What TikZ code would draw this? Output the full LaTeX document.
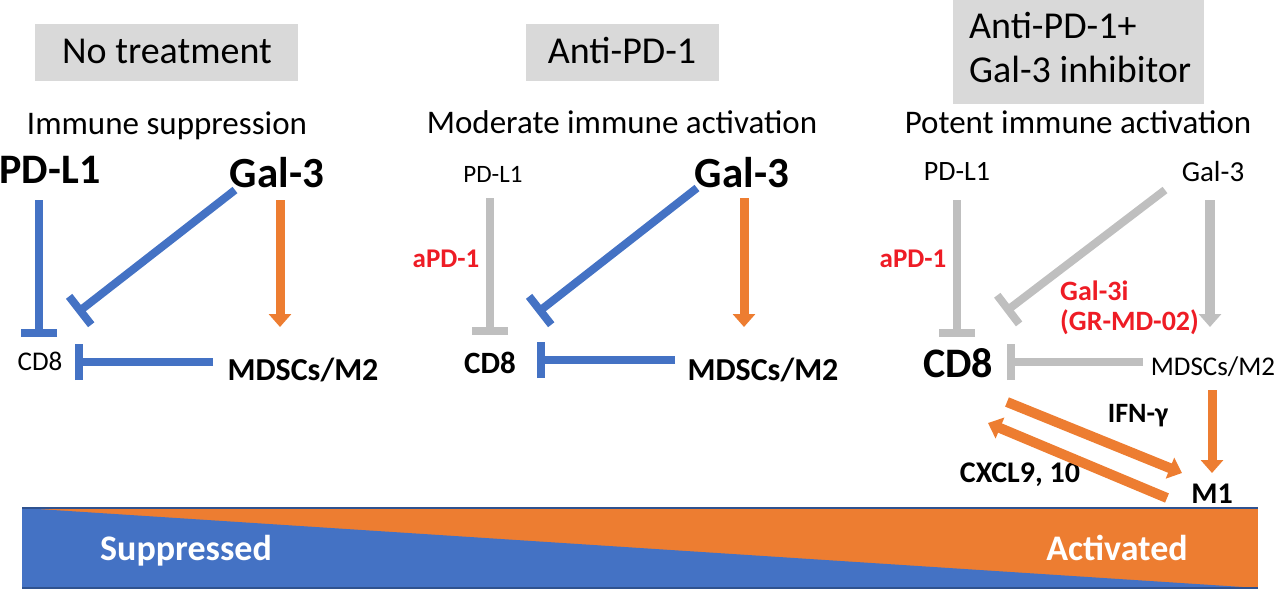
\documentclass[tikz,border=0pt]{standalone}
\usepackage{fontspec}
\setmainfont{Carlito}
\usetikzlibrary{arrows.meta}
\definecolor{cblue}{HTML}{4472C4}
\definecolor{cdblue}{HTML}{2F528F}
\definecolor{corange}{HTML}{ED7D31}
\definecolor{cgray}{HTML}{BFBFBF}
\definecolor{cbox}{HTML}{D9D9D9}
\definecolor{cred}{HTML}{EE1C25}
\newcommand\myfs[1]{\fontsize{#1}{#1}\selectfont}
\begin{document}
\begin{tikzpicture}[x=1pt,y=-1pt,
  txt/.style={inner sep=0pt, anchor=base},
  boxtxt/.style={txt, font=\myfs{38}},
  ttl/.style={txt, font=\myfs{33}},
  big/.style={txt, font=\bfseries\myfs{43}},
  redl/.style={txt, text=cred, font=\bfseries\myfs{28}},
  gbox/.style={fill=cbox, draw=none, inner sep=0pt},
  inh/.style={line width=8pt, -{Bar[width=36pt]}},
  act/.style={line width=9pt, -{Triangle[width=22pt,length=13pt]}},
  blueinh/.style={inh, draw=cblue},
  grayinh/.style={inh, draw=cgray},
  orgact/.style={act, draw=corange},
  grayact/.style={act, draw=cgray, line width=10pt}
]
\useasboundingbox (0,0) rectangle (1280,590);

% ---------- header boxes ----------
\node[gbox, minimum width=263pt, minimum height=57pt] (box1) at (166.5,52.5) {};
\node[boxtxt] (box1t) at (167,63) {No treatment};
\node[gbox, minimum width=193pt, minimum height=57pt] (box2) at (622.5,52.5) {};
\node[boxtxt] (box2t) at (622,63) {Anti-PD-1};
\node[gbox, minimum width=251pt, minimum height=104pt] (box3) at (1078.5,52) {};
\node[boxtxt, anchor=base west] (box3a) at (969,38) {Anti-PD-1+};
\node[boxtxt, anchor=base west] (box3b) at (969,82) {Gal-3 inhibitor};

% ---------- titles ----------
\node[ttl] (t1) at (167,134) {Immune suppression};
\node[ttl] (t2) at (622,133) {Moderate immune activation};
\node[ttl] (t3) at (1078,133) {Potent immune activation};

% ---------- panel 1 ----------
\node[big, font=\bfseries\myfs{42}] (pdl1a) at (50,183) {PD-L1};
\node[big] (gal3a) at (277,187) {Gal-3};
\node[txt, font=\myfs{27}] (cd8a) at (40,370) {CD8};
\node[txt, font=\bfseries\myfs{32}] (mdsca) at (303,380) {MDSCs/M2};
\coordinate (a1s) at (39,200);   \coordinate (a1e) at (39,337);
\coordinate (a2s) at (235,190);  \coordinate (a2e) at (77,313);
\coordinate (a3s) at (280,200);  \coordinate (a3e) at (280,327);
\coordinate (a4s) at (213,362);  \coordinate (a4e) at (75,362);
\draw[blueinh] (a1s) -- (a1e);
\draw[blueinh] (a2s) -- (a2e);
\draw[orgact] (a3s) -- (a3e);
\draw[blueinh] (a4s) -- (a4e);

% ---------- panel 2 ----------
\node[txt, font=\myfs{25}] (pdl1b) at (493,182) {PD-L1};
\node[big] (gal3b) at (742,187) {Gal-3};
\node[txt, font=\bfseries\myfs{31}] (cd8b) at (490,373) {CD8};
\node[txt, font=\bfseries\myfs{32}] (mdscb) at (763,380) {MDSCs/M2};
\node[redl, font=\bfseries\myfs{27}] (apd1b) at (446,267) {aPD-1};
\coordinate (b1s) at (490,198);  \coordinate (b1e) at (490,335);
\coordinate (b2s) at (697,188);  \coordinate (b2e) at (537,313);
\coordinate (b3s) at (744,198);  \coordinate (b3e) at (744,327);
\coordinate (b4s) at (675,360);  \coordinate (b4e) at (537,360);
\draw[grayinh] (b1s) -- (b1e);
\draw[blueinh] (b2s) -- (b2e);
\draw[orgact] (b3s) -- (b3e);
\draw[blueinh] (b4s) -- (b4e);

% ---------- panel 3 ----------
\node[txt, font=\myfs{28}] (pdl1c) at (957,180) {PD-L1};
\node[txt, font=\myfs{29}] (gal3c) at (1213,181) {Gal-3};
\node[txt, font=\bfseries\myfs{42}] (cd8c) at (958,377) {CD8};
\node[txt, font=\myfs{27}] (mdscc) at (1213,375) {MDSCs/M2};
\node[redl, font=\bfseries\myfs{27}] (apd1c) at (913,267) {aPD-1};
\node[redl, anchor=base west] (gal3i) at (1060,300) {Gal-3i};
\node[redl, anchor=base west] (grmd) at (1060,330) {(GR-MD-02)};
\node[txt, font=\bfseries\myfs{28}] (ifn) at (1138,422) {IFN-γ};
\node[txt, font=\bfseries\myfs{30}] (cxcl) at (1020,482) {CXCL9, 10};
\node[txt, font=\bfseries\myfs{30}] (m1) at (1212,503) {M1};
\coordinate (c1s) at (957,200);   \coordinate (c1e) at (957,337);
\coordinate (c2s) at (1165,190);  \coordinate (c2e) at (1005,312);
\coordinate (c3s) at (1210,200);  \coordinate (c3e) at (1210,327);
\coordinate (c4s) at (1143,362);  \coordinate (c4e) at (1007,362);
\coordinate (c5s) at (1212,390);  \coordinate (c5e) at (1212,473);
\coordinate (c6s) at (1007,402);  \coordinate (c6e) at (1182,473);
\coordinate (c7s) at (1167,498);  \coordinate (c7e) at (988,423);
\draw[grayinh] (c1s) -- (c1e);
\draw[grayinh] (c2s) -- (c2e);
\draw[grayact] (c3s) -- (c3e);
\draw[grayinh] (c4s) -- (c4e);
\draw[orgact] (c5s) -- (c5e);
\draw[orgact, line width=10pt] (c6s) -- (c6e);
\draw[orgact, line width=10pt] (c7s) -- (c7e);

% ---------- gradient bar ----------
\fill[corange] (22,508) rectangle (1258,588);
\fill[cblue] (22,508) -- (1258,588) -- (22,588) -- cycle;
\draw[cdblue, line width=2pt] (22,508) -- (1258,508);
\draw[cdblue, line width=1.5pt] (22,588) -- (1258,588);
\node[txt, text=white, font=\bfseries\myfs{36}] (supp) at (186,560) {Suppressed};
\node[txt, text=white, font=\bfseries\myfs{36}] (actv) at (1117,560) {Activated};
\end{tikzpicture}
\end{document}
